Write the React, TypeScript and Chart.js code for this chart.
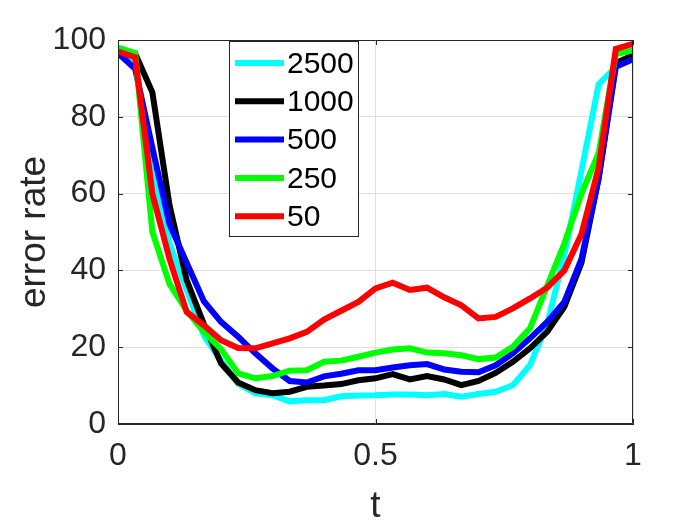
import React, { useEffect, useRef } from "react";
import { Chart, registerables } from "chart.js";

Chart.register(...registerables);

const tValues = [
  0, 0.0333, 0.0667, 0.1, 0.1333, 0.1667, 0.2, 0.2333, 0.2667, 0.3, 0.3333,
  0.3667, 0.4, 0.4333, 0.4667, 0.5, 0.5333, 0.5667, 0.6, 0.6333, 0.6667, 0.7,
  0.7333, 0.7667, 0.8, 0.8333, 0.8667, 0.9, 0.9333, 0.9667, 1,
];

const series2500 = [
  97, 95, 66, 47, 35, 23, 16.5, 10.5, 8.0, 7.5, 5.9, 6.2, 6.2, 7.2, 7.4, 7.5,
  7.7, 7.7, 7.5, 7.8, 7.1, 7.8, 8.4, 10.1, 15.3, 26, 44, 66, 88.5, 93, 96.5,
];
const series1000 = [
  97, 96.5, 86.4, 57, 37.5, 26, 15.8, 10.8, 8.8, 8.0, 8.4, 9.7, 10.0, 10.4,
  11.4, 11.9, 13.0, 11.6, 12.5, 11.6, 10.1, 11.2, 13.3, 16.2, 19.7, 24.0, 30.5,
  42, 64, 94, 96,
];
const series500 = [
  96.6, 92.5, 72, 52, 42, 32, 26.6, 22.7, 18.4, 14.5, 11.2, 10.8, 12.4, 13.1,
  14.0, 14.0, 14.7, 15.3, 15.6, 14.2, 13.6, 13.5, 15.3, 18.4, 22.3, 26.6, 31.8,
  43, 64, 93, 95,
];
const series250 = [
  98, 96.6, 50, 36.5, 29.5, 24, 19.5, 13.2, 11.9, 12.5, 13.9, 14.0, 16.2, 16.5,
  17.5, 18.6, 19.4, 19.7, 18.6, 18.4, 17.9, 16.9, 17.3, 20.1, 24.9, 36, 47, 60,
  70.5, 96.4, 97.3,
];
const series50 = [
  97, 95.5, 60, 43, 29.2, 25.7, 21.8, 19.8, 19.7, 21, 22.3, 24, 27.2, 29.5,
  31.8, 35.3, 36.8, 34.9, 35.5, 33, 30.9, 27.5, 27.9, 30.1, 32.7, 35.5, 40,
  49.5, 66.8, 97.7, 99,
];

const seriesLabels = ["2500", "1000", "500", "250", "50"];
const seriesValues = [series2500, series1000, series500, series250, series50];
const seriesColors = ["#00FFFF", "#000000", "#0000FF", "#00FF00", "#FF0000"];

const xTicks = [0, 0.5, 1];
const yTicks = [0, 20, 40, 60, 80, 100];

const xTitle = "t";
const yTitle = "error rate";

const AXIS_COLOR = "#262626";
const FONT = "Liberation Sans, Arial, Helvetica, sans-serif";

const boxTicksPlugin = {
  id: "boxTicks",
  afterDatasetsDraw(chart: any) {
    const { ctx, chartArea } = chart;
    const { left, right, top, bottom } = chartArea;
    const xs = chart.scales.x;
    const ys = chart.scales.y;
    const len = 5;
    ctx.save();
    ctx.strokeStyle = AXIS_COLOR;
    ctx.lineWidth = 1;
    ctx.beginPath();
    ctx.rect(left + 0.5, top + 0.5, right - left - 1, bottom - top - 1);
    for (const v of yTicks) {
      const y = Math.round(ys.getPixelForValue(v)) + 0.5;
      ctx.moveTo(left, y);
      ctx.lineTo(left + len, y);
      ctx.moveTo(right, y);
      ctx.lineTo(right - len, y);
    }
    for (const v of xTicks) {
      const x = Math.round(xs.getPixelForValue(v)) + 0.5;
      ctx.moveTo(x, bottom);
      ctx.lineTo(x, bottom - len);
      ctx.moveTo(x, top);
      ctx.lineTo(x, top + len);
    }
    ctx.stroke();
    ctx.restore();
  },
};

const legendPlugin = {
  id: "boxLegend",
  afterDraw(chart: any) {
    const { ctx } = chart;
    const bx = 229.5;
    const by = 41.5;
    const bw = 129;
    const bh = 195;
    ctx.save();
    ctx.fillStyle = "#ffffff";
    ctx.fillRect(bx, by, bw, bh);
    ctx.strokeStyle = AXIS_COLOR;
    ctx.lineWidth = 1;
    ctx.strokeRect(bx, by, bw, bh);
    ctx.font = `30px ${FONT}`;
    ctx.textBaseline = "middle";
    ctx.textAlign = "left";
    seriesLabels.forEach((lab, i) => {
      const y = 63 + i * 38.3;
      ctx.strokeStyle = seriesColors[i];
      ctx.lineWidth = 6;
      ctx.beginPath();
      ctx.moveTo(235, y);
      ctx.lineTo(284, y);
      ctx.stroke();
      ctx.fillStyle = "#000000";
      ctx.fillText(lab, 287, y + 1.5);
    });
    ctx.restore();
  },
};

export default function App() {
  const canvasRef = useRef<HTMLCanvasElement | null>(null);

  useEffect(() => {
    const canvas = canvasRef.current;
    if (!canvas) return;
    const datasets = seriesLabels.map((lab, i) => ({
      label: lab,
      data: tValues.map((t, j) => ({ x: t, y: seriesValues[i][j] })),
      borderColor: seriesColors[i],
      backgroundColor: seriesColors[i],
      borderWidth: 6,
      pointRadius: 0,
      tension: 0,
      fill: false,
      order: seriesLabels.length - i,
    }));

    const chart = new Chart(canvas, {
      type: "line",
      data: { datasets },
      options: {
        animation: false,
        responsive: false,
        events: [],
        layout: { padding: { left: 0, top: 40, right: 67, bottom: 0 } },
        plugins: {
          legend: { display: false },
          tooltip: { enabled: false },
        },
        scales: {
          x: {
            type: "linear",
            min: 0,
            max: 1,
            afterBuildTicks: (scale: any) => {
              scale.ticks = xTicks.map((v) => ({ value: v }));
            },
            afterFit: (scale: any) => {
              scale.height = 101;
            },
            ticks: {
              color: AXIS_COLOR,
              font: { family: FONT, size: 32 },
              padding: 13,
              maxRotation: 0,
              autoSkip: false,
              callback: (v: any) => String(v),
            },
            grid: { color: "#dfdfdf", lineWidth: 1, drawTicks: false },
            border: { display: true, color: AXIS_COLOR, width: 1 },
            title: {
              display: true,
              text: xTitle,
              color: AXIS_COLOR,
              font: { family: FONT, size: 37, lineHeight: 1.0 },
              padding: { top: 0, bottom: 0 },
            },
          },
          y: {
            type: "linear",
            min: 0,
            max: 100,
            afterBuildTicks: (scale: any) => {
              scale.ticks = yTicks.map((v) => ({ value: v }));
            },
            afterFit: (scale: any) => {
              scale.width = 118;
            },
            ticks: {
              color: AXIS_COLOR,
              font: { family: FONT, size: 32 },
              padding: 12,
              autoSkip: false,
            },
            grid: { color: "#dfdfdf", lineWidth: 1, drawTicks: false },
            border: { display: true, color: AXIS_COLOR, width: 1 },
            title: {
              display: true,
              text: yTitle,
              color: AXIS_COLOR,
              font: { family: FONT, size: 37, lineHeight: 1.0 },
              padding: { top: 16, bottom: 0 },
            },
          },
        },
      },
      plugins: [boxTicksPlugin, legendPlugin],
    });

    return () => {
      chart.destroy();
    };
  }, []);

  return (
    <div style={{ position: "absolute", left: 0, top: 0, width: 700, height: 525, background: "#ffffff" }}>
      <canvas ref={canvasRef} width={700} height={525} style={{ width: 700, height: 525, display: "block" }} />
    </div>
  );
}
